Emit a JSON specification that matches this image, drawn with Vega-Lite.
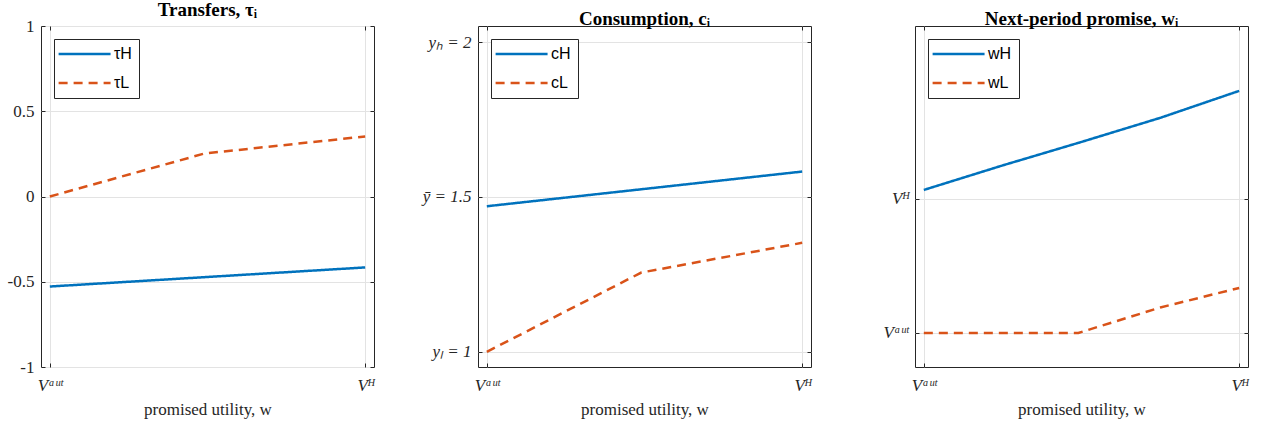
{
  "$schema": "https://vega.github.io/schema/vega-lite/v6.json",
  "padding": {"left": 6, "top": 0, "right": 5, "bottom": 4},
  "background": "white",
  "spacing": 104,
  "bounds": "flush",
  "config": {
    "view": {"stroke": "#262626", "strokeWidth": 1},
    "axis": {
      "domain": false,
      "gridColor": "#e3e3e3",
      "gridWidth": 1,
      "tickColor": "#262626",
      "tickSize": -4,
      "labelFont": "Liberation Serif",
      "labelFontSize": 17,
      "labelColor": "#262626",
      "titleFont": "Liberation Serif",
      "titleFontSize": 17,
      "titleFontWeight": "normal",
      "titleColor": "#262626"
    },
    "title": {"font": "Liberation Serif", "fontSize": 19, "fontWeight": "bold", "color": "#000000", "frame": "group", "anchor": "middle", "offset": -3},
    "legend": {
      "orient": "top-left",
      "offset": 13,
      "strokeColor": "#262626",
      "fillColor": "white",
      "padding": 7,
      "symbolType": "M-2,0H8",
      "symbolSize": 108,
      "symbolStrokeWidth": 2.5,
      "labelFont": "Liberation Sans",
      "labelFontSize": 16,
      "labelColor": "#000000",
      "labelOffset": 37,
      "rowPadding": 13,
      "title": null
    }
  },
  "resolve": {"legend": {"color": "independent", "strokeDash": "independent"}},
  "hconcat": [
    {
      "width": 333, "height": 341,
      "title": "Transfers, τᵢ",
      "data": {"values": [
        {"w": 0, "s": "H", "v": -0.528},
        {"w": 1, "s": "H", "v": -0.416},
        {"w": 0, "s": "L", "v": 0},
        {"w": 0.49, "s": "L", "v": 0.252},
        {"w": 1, "s": "L", "v": 0.352}
      ]},
      "layer": [
        {
          "mark": {"type": "line", "strokeWidth": 2.5},
          "encoding": {
            "x": {"field": "w", "type": "quantitative", "scale": {"domain": [-0.028, 1.028], "nice": false, "zero": false},
                  "axis": {"orient": "bottom", "values": [0, 1], "labelExpr": "datum.value == 0 ? 'Vᵃᵘᵗ' : 'Vᴴ'", "labelFontStyle": "italic", "labelPadding": 14, "title": "promised utility, w", "titlePadding": 8}},
            "y": {"field": "v", "type": "quantitative", "scale": {"domain": [-1, 1], "nice": false},
                  "axis": {"orient": "left", "values": [-1, -0.5, 0, 0.5, 1], "labelExpr": "datum.value == 0 ? '0' : (datum.value == 1 ? '1' : (datum.value == -1 ? '-1' : (datum.value == 0.5 ? '0.5' : '-0.5')))", "labelPadding": 11, "title": null}},
            "color": {"field": "s", "type": "nominal", "scale": {"domain": ["H", "L"], "range": ["#0072BD", "#D95319"]},
                      "legend": {"labelExpr": "datum.label == 'H' ? 'τH' : 'τL'"}},
            "strokeDash": {"field": "s", "type": "nominal", "scale": {"domain": ["H", "L"], "range": [[1, 0], [9, 6]]},
                           "legend": {"labelExpr": "datum.label == 'H' ? 'τH' : 'τL'"}}
          }
        },
        {
          "mark": {"type": "line", "opacity": 0},
          "encoding": {
            "x": {"field": "w", "type": "quantitative", "scale": {"domain": [-0.028, 1.028], "nice": false, "zero": false},
                  "axis": {"orient": "top", "values": [0, 1], "labels": false, "grid": false, "title": null}},
            "y": {"field": "v", "type": "quantitative", "scale": {"domain": [-1, 1], "nice": false},
                  "axis": {"orient": "right", "values": [-1, -0.5, 0, 0.5, 1], "labels": false, "grid": false, "title": null}}
          }
        }
      ],
      "resolve": {"axis": {"x": "independent", "y": "independent"}}
    },
    {
      "width": 333, "height": 341,
      "title": "Consumption, cᵢ",
      "data": {"values": [
        {"w": 0, "s": "H", "v": 1.47},
        {"w": 1, "s": "H", "v": 1.582},
        {"w": 0, "s": "L", "v": 1},
        {"w": 0.49, "s": "L", "v": 1.256},
        {"w": 1, "s": "L", "v": 1.352}
      ]},
      "layer": [
        {
          "mark": {"type": "line", "strokeWidth": 2.5},
          "encoding": {
            "x": {"field": "w", "type": "quantitative", "scale": {"domain": [-0.028, 1.028], "nice": false, "zero": false},
                  "axis": {"orient": "bottom", "values": [0, 1], "labelExpr": "datum.value == 0 ? 'Vᵃᵘᵗ' : 'Vᴴ'", "labelFontStyle": "italic", "labelPadding": 14, "title": "promised utility, w", "titlePadding": 8}},
            "y": {"field": "v", "type": "quantitative", "scale": {"domain": [0.951, 2.052], "nice": false, "zero": false},
                  "axis": {"orient": "left", "values": [1, 1.5, 2], "labelExpr": "datum.value == 1 ? 'yₗ = 1' : (datum.value == 2 ? 'yₕ = 2' : 'ȳ = 1.5')", "labelFontStyle": "italic", "labelPadding": 11, "title": null}},
            "color": {"field": "s", "type": "nominal", "scale": {"domain": ["H", "L"], "range": ["#0072BD", "#D95319"]},
                      "legend": {"labelExpr": "datum.label == 'H' ? 'cH' : 'cL'"}},
            "strokeDash": {"field": "s", "type": "nominal", "scale": {"domain": ["H", "L"], "range": [[1, 0], [9, 6]]},
                           "legend": {"labelExpr": "datum.label == 'H' ? 'cH' : 'cL'"}}
          }
        },
        {
          "mark": {"type": "line", "opacity": 0},
          "encoding": {
            "x": {"field": "w", "type": "quantitative", "scale": {"domain": [-0.028, 1.028], "nice": false, "zero": false},
                  "axis": {"orient": "top", "values": [0, 1], "labels": false, "grid": false, "title": null}},
            "y": {"field": "v", "type": "quantitative", "scale": {"domain": [0.951, 2.052], "nice": false, "zero": false},
                  "axis": {"orient": "right", "values": [1, 1.5, 2], "labels": false, "grid": false, "title": null}}
          }
        }
      ],
      "resolve": {"axis": {"x": "independent", "y": "independent"}}
    },
    {
      "width": 333, "height": 341,
      "title": "Next-period promise, wᵢ",
      "data": {"values": [
        {"w": 0, "s": "H", "v": 1.067},
        {"w": 0.25, "s": "H", "v": 1.25},
        {"w": 0.49, "s": "H", "v": 1.418},
        {"w": 0.75, "s": "H", "v": 1.605},
        {"w": 1, "s": "H", "v": 1.806},
        {"w": 0, "s": "L", "v": 0},
        {"w": 0.49, "s": "L", "v": 0},
        {"w": 0.75, "s": "L", "v": 0.19},
        {"w": 1, "s": "L", "v": 0.336}
      ]},
      "layer": [
        {
          "mark": {"type": "line", "strokeWidth": 2.5},
          "encoding": {
            "x": {"field": "w", "type": "quantitative", "scale": {"domain": [-0.028, 1.028], "nice": false, "zero": false},
                  "axis": {"orient": "bottom", "values": [0, 1], "labelExpr": "datum.value == 0 ? 'Vᵃᵘᵗ' : 'Vᴴ'", "labelFontStyle": "italic", "labelPadding": 14, "title": "promised utility, w", "titlePadding": 8}},
            "y": {"field": "v", "type": "quantitative", "scale": {"domain": [-0.254, 2.29], "nice": false, "zero": false},
                  "axis": {"orient": "left", "values": [0, 1], "labelExpr": "datum.value == 0 ? 'Vᵃᵘᵗ' : 'Vᴴ'", "labelFontStyle": "italic", "labelPadding": 11, "title": null}},
            "color": {"field": "s", "type": "nominal", "scale": {"domain": ["H", "L"], "range": ["#0072BD", "#D95319"]},
                      "legend": {"labelExpr": "datum.label == 'H' ? 'wH' : 'wL'"}},
            "strokeDash": {"field": "s", "type": "nominal", "scale": {"domain": ["H", "L"], "range": [[1, 0], [9, 6]]},
                           "legend": {"labelExpr": "datum.label == 'H' ? 'wH' : 'wL'"}}
          }
        },
        {
          "mark": {"type": "line", "opacity": 0},
          "encoding": {
            "x": {"field": "w", "type": "quantitative", "scale": {"domain": [-0.028, 1.028], "nice": false, "zero": false},
                  "axis": {"orient": "top", "values": [0, 1], "labels": false, "grid": false, "title": null}},
            "y": {"field": "v", "type": "quantitative", "scale": {"domain": [-0.254, 2.29], "nice": false, "zero": false},
                  "axis": {"orient": "right", "values": [0, 1], "labels": false, "grid": false, "title": null}}
          }
        }
      ],
      "resolve": {"axis": {"x": "independent", "y": "independent"}}
    }
  ]
}
